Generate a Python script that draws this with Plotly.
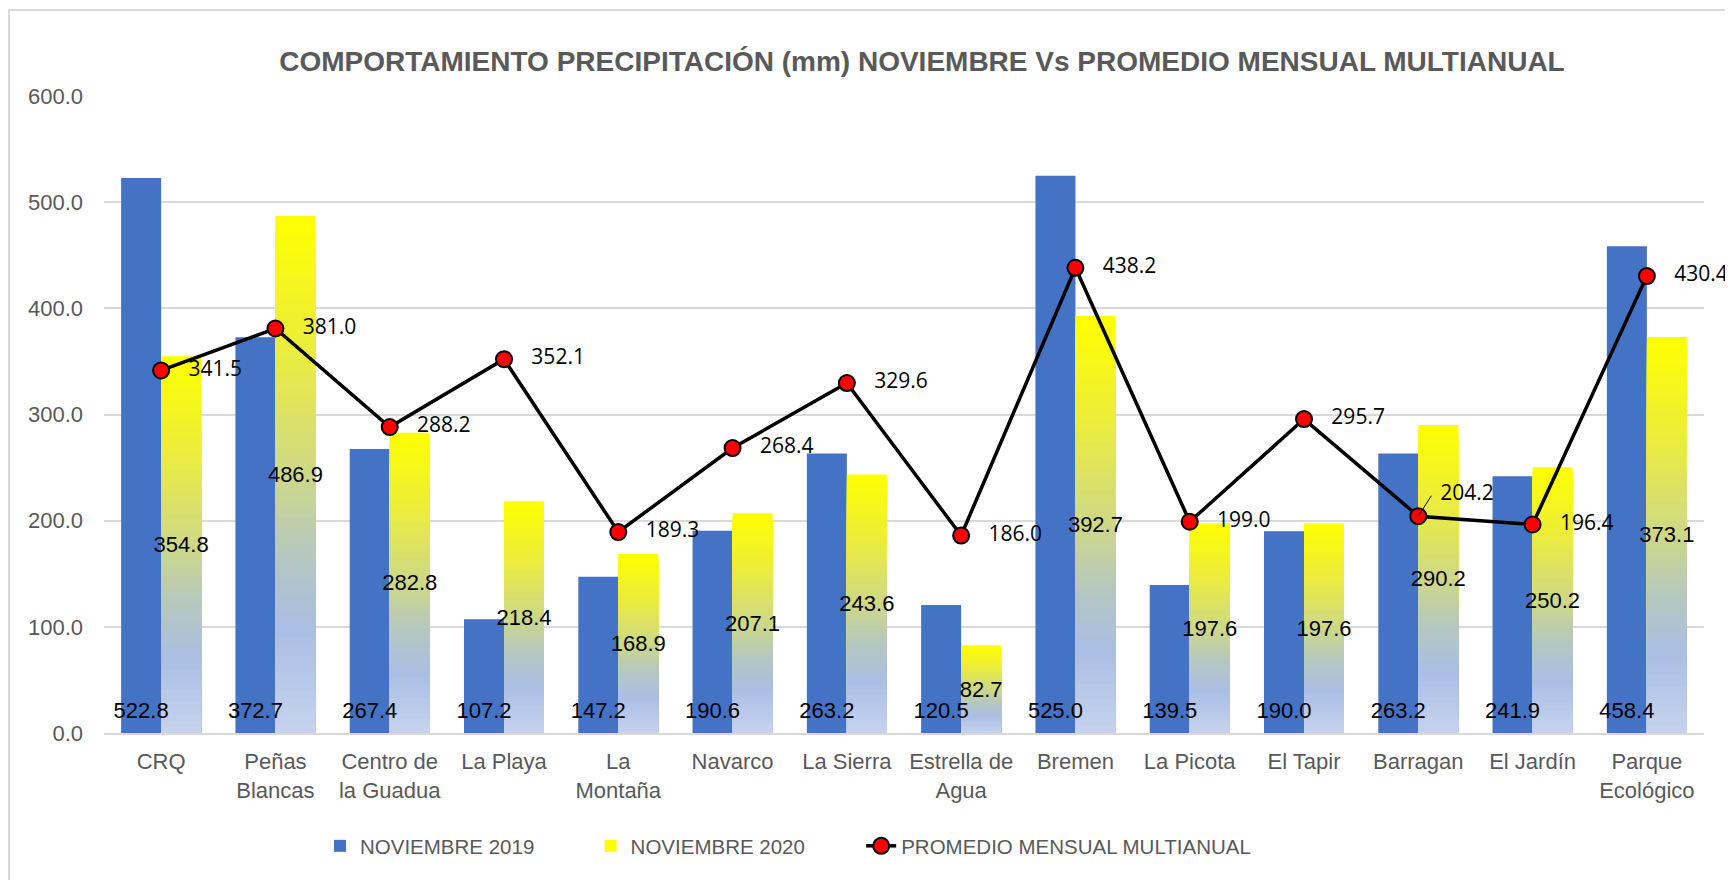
import plotly.graph_objects as go

categories = ["CRQ", "Peñas<br>Blancas", "Centro de<br>la Guadua", "La Playa", "La<br>Montaña",
              "Navarco", "La Sierra", "Estrella de<br>Agua", "Bremen", "La Picota", "El Tapir",
              "Barragan", "El Jardín", "Parque<br>Ecológico"]
nov_2019 = [522.8, 372.7, 267.4, 107.2, 147.2, 190.6, 263.2, 120.5, 525.0, 139.5, 190.0, 263.2, 241.9, 458.4]
nov_2020 = [354.8, 486.9, 282.8, 218.4, 168.9, 207.1, 243.6, 82.7, 392.7, 197.6, 197.6, 290.2, 250.2, 373.1]
promedio = [341.5, 381.0, 288.2, 352.1, 189.3, 268.4, 329.6, 186.0, 438.2, 199.0, 295.7, 204.2, 196.4, 430.4]
y_ticks = [0, 100, 200, 300, 400, 500, 600]

# page has an 8px body margin, so the figure is 1725 x 872
W, H = 1725, 872
ML, MR, MT, MB = 96, 29, 88, 147
PW, PH = W - ML - MR, H - MT - MB

BLUE = "#4472C4"
FONT = "Liberation Sans, Arial, sans-serif"
SEG = "Open Sans, Noto Sans, sans-serif"
GRAY = "#595959"
LABEL_LIFT = 7  # lift of the bottom labels (axis units)
PAD = "\u00a0" * 9  # extra spacing after legend entries

# gradient stops (fraction from top of bar -> rgb)
stops = [(0.0, (255, 255, 0)), (0.25, (236, 237, 58)), (0.5, (206, 216, 135)),
         (0.65, (182, 200, 190)), (0.8, (170, 190, 228)), (1.0, (198, 211, 237))]


def grad(f):
    for (f0, c0), (f1, c1) in zip(stops[:-1], stops[1:]):
        if f0 <= f <= f1:
            t = (f - f0) / (f1 - f0)
            return "rgb(%d,%d,%d)" % tuple(round(a + (b - a) * t) for a, b in zip(c0, c1))
    return "rgb(%d,%d,%d)" % stops[-1][1]


def px_x(px):
    return (px - ML) / PW


def px_y(py):
    return (H - MB - py) / PH


x = list(range(len(categories)))
fig = go.Figure()

fig.add_trace(go.Bar(x=x, y=nov_2019, name="NOVIEMBRE 2019" + PAD, marker=dict(color=BLUE, line_width=0),
                     offsetgroup="a", legendrank=1, hoverinfo="skip"))

N = 60
for i in range(N):
    frac_top = i / N
    fig.add_trace(go.Bar(
        x=x, y=[v * (1 - frac_top) for v in nov_2020], base=0,
        marker=dict(color=grad(frac_top + 0.5 / N), line_width=0),
        offsetgroup="b", name="NOVIEMBRE 2020" + PAD, showlegend=(i == 0), legendrank=2,
        hoverinfo="skip"))

# label overlays (transparent)
fig.add_trace(go.Bar(x=x, y=nov_2019, base=LABEL_LIFT, offsetgroup="a",
                     marker=dict(color="rgba(0,0,0,0)", line_width=0),
                     text=["%.1f" % v for v in nov_2019], textposition="inside", insidetextanchor="start",
                     textangle=0, textfont=dict(family=FONT, size=22, color="black"),
                     showlegend=False, hoverinfo="skip", cliponaxis=False))
fig.add_trace(go.Bar(x=x, y=nov_2020, offsetgroup="b", marker=dict(color="rgba(0,0,0,0)", line_width=0),
                     text=["%.1f" % v for v in nov_2020], textposition="inside", insidetextanchor="middle",
                     textangle=0, textfont=dict(family=FONT, size=22, color="black"),
                     showlegend=False, hoverinfo="skip", cliponaxis=False))

positions = ["middle right"] * len(promedio)
positions[11] = "top right"
labels = ["   %.1f" % v for v in promedio]
labels[11] = "  %.1f" % promedio[11]
fig.add_trace(go.Scatter(
    x=x, y=promedio, name="PROMEDIO MENSUAL MULTIANUAL", mode="lines+markers+text",
    line=dict(color="black", width=3.5),
    marker=dict(size=16, color="#FF0000", line=dict(color="black", width=2)),
    text=labels, textposition=positions,
    textfont=dict(family=SEG, size=21, color="black"), legendrank=3, cliponaxis=False))

# leader line for the displaced Barragan label
fig.add_annotation(x=x[11], y=promedio[11], ax=14, ay=-22, text="", showarrow=True,
                   arrowhead=0, arrowwidth=1, arrowcolor="black", standoff=0)

fig.update_layout(
    width=W, height=H, margin=dict(l=ML, r=MR, t=MT, b=MB),
    paper_bgcolor="white", plot_bgcolor="white",
    barmode="group", bargap=0.3, bargroupgap=0,
    uniformtext=dict(mode="show", minsize=22),
    title=dict(text="<b>COMPORTAMIENTO PRECIPITACIÓN (mm) NOVIEMBRE Vs PROMEDIO MENSUAL MULTIANUAL</b>",
               x=914 / W, xref="container", xanchor="center", y=1 - 53 / H, yanchor="middle",
               font=dict(family=FONT, size=28, color=GRAY)),
    legend=dict(orientation="h", x=px_x(780), xanchor="center", y=px_y(838), yanchor="middle",
                font=dict(family=FONT, size=20.5, color=GRAY), traceorder="normal"),
    xaxis=dict(range=[-0.5, len(categories) - 0.5], tickvals=x, ticktext=categories,
               tickfont=dict(family=FONT, size=22, color=GRAY), showgrid=False,
               showline=True, linecolor="#D9D9D9", linewidth=2, ticks="", ticklabelstandoff=8),
    yaxis=dict(range=[0, 600], tickvals=y_ticks, ticktext=["%.1f" % v for v in y_ticks],
               tickfont=dict(family=FONT, size=22, color=GRAY), gridcolor="#D9D9D9", gridwidth=1.5,
               zeroline=False, showline=False, ticks="", ticklabelstandoff=20),
)

# chart border
fig.add_shape(type="rect", xref="paper", yref="paper",
              x0=px_x(1), x1=px_x(W + 20), y0=px_y(H + 20), y1=px_y(2),
              line=dict(color="#D9D9D9", width=2), fillcolor="rgba(0,0,0,0)", layer="below")

fig.write_html("out.html")
